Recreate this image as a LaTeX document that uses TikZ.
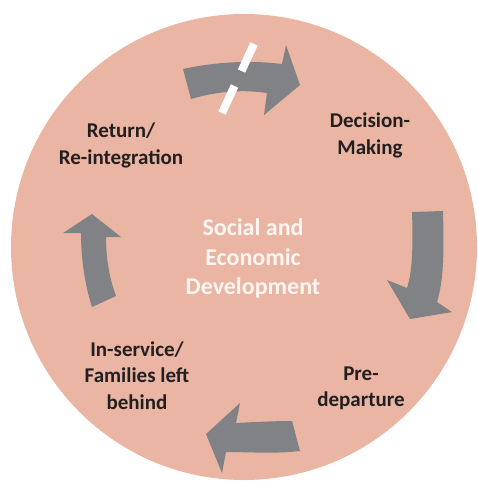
\documentclass[tikz,border=0pt]{standalone}
\usepackage{fontspec}
\setmainfont{Carlito}
\usepackage{xcolor}
\usetikzlibrary{positioning}
\definecolor{cyclebg}{HTML}{EAB5A3}
\definecolor{cyclearrow}{HTML}{808285}
\definecolor{stagetext}{HTML}{231F20}
\definecolor{coretext}{HTML}{FDF5F2}

\begin{document}
\begin{tikzpicture}[x=1pt,y=-1pt,
    stage/.style={align=center,inner sep=0pt,text=stagetext,
      font=\fontsize{21}{26.5}\selectfont\bfseries},
    core/.style={align=center,inner sep=0pt,text=coretext,
      font=\fontsize{24}{29.5}\selectfont\bfseries},
    flow/.style={fill=cyclearrow,draw=none},
    cut/.style={draw=white,line width=8pt}]
    \useasboundingbox (0,0) rectangle (477,482);

    % disc behind everything
    \fill[cyclebg] (244,247) circle (233pt);

    % the four turning arrows
    \fill[flow] (183,69) .. controls (215,62) and (250,60) .. (282,64)
        -- (286,45) -- (300,85) -- (264,115) -- (267,93)
        .. controls (240,89) and (215,92) .. (191,99) -- cycle;
    \fill[flow] (412,212) -- (443,211) .. controls (444,250) and (444,280) .. (437,302)
        -- (452,312) -- (410,319) -- (387,280) -- (407,288)
        .. controls (413,270) and (413,240) .. (412,212) -- cycle;
    \fill[flow] (292,421) -- (300,451) .. controls (275,454) and (250,452) .. (226,452)
        -- (222,473) -- (206,434) -- (240,403) -- (236,423)
        .. controls (255,422) and (275,421) .. (292,421) -- cycle;
    \fill[flow] (92,307) .. controls (85,285) and (81,260) .. (81,233)
        -- (63,233) -- (92,214) -- (121,237) -- (106,237)
        .. controls (106,260) and (110,280) .. (116,296) -- cycle;

    % broken link on the top arrow
    \draw[cut] (254,44) -- (241.5,71);
    \draw[cut] (234.5,86) -- (222,113);

    % stages
    \node[core]  (sed) at (253,258.5) {Social and\\Economic\\Development};
    \node[stage] (dec) at (370,135.5) {Decision-\\Making};
    \node[stage] (pre) at (361,388.5) {Pre-\\departure};
    \node[stage] (ins) at (137,375.5) {In-service/\\Families left\\behind};
    \node[stage] (ret) at (121,145.5) {Return/\\Re-integration};
\end{tikzpicture}
\end{document}
